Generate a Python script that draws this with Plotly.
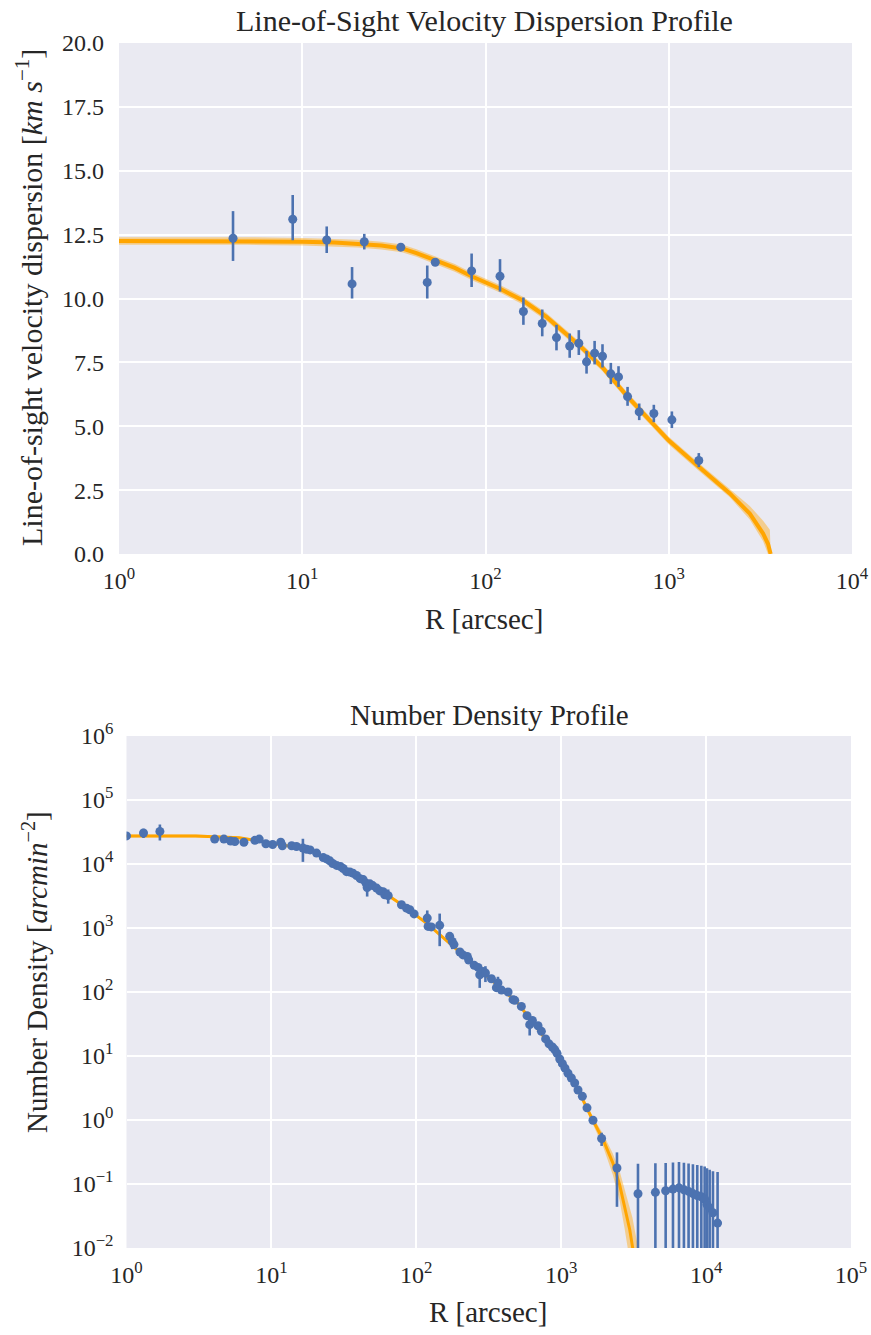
import plotly.graph_objects as go

# ---------------- Top panel: velocity dispersion ----------------
R_sigma = [4.19, 8.87, 13.6, 18.7, 21.8, 34.5, 48.1, 53.2, 84.0, 120, 161, 204, 244, 288, 323,
           356, 394, 435, 483, 532, 596, 690, 829, 1040, 1459]
sigma = [12.36, 13.10, 12.29, 10.57, 12.22, 12.01, 10.63, 11.42, 11.08, 10.87, 9.49, 9.02, 8.47,
         8.14, 8.25, 7.52, 7.86, 7.74, 7.05, 6.93, 6.16, 5.56, 5.50, 5.25, 3.66]
sigma_err_hi = [1.06, 0.95, 0.53, 0.66, 0.31, 0.10, 0.66, 0.08, 0.68, 0.67, 0.55, 0.55, 0.50,
                0.49, 0.51, 0.43, 0.48, 0.47, 0.43, 0.42, 0.38, 0.33, 0.34, 0.33, 0.29]
sigma_err_lo = [0.89, 0.82, 0.51, 0.57, 0.30, 0.10, 0.63, 0.08, 0.63, 0.60, 0.52, 0.50, 0.50,
                0.46, 0.46, 0.46, 0.44, 0.44, 0.40, 0.39, 0.36, 0.32, 0.34, 0.32, 0.26]

R_model_sigma = [1, 5, 10, 15, 20, 27, 35, 42, 53, 68, 85, 120, 161, 215, 327, 435, 596, 997,
                 1459, 2155, 2768, 3273, 3480, 3562, 3600]
sigma_model = [12.25, 12.25, 12.22, 12.19, 12.15, 12.07, 11.96, 11.78, 11.50, 11.20, 10.85, 10.38,
               9.91, 9.28, 8.15, 7.30, 6.16, 4.45, 3.41, 2.37, 1.58, 0.80, 0.40, 0.10, 0.0]
sigma_model_hi = [12.40, 12.40, 12.37, 12.34, 12.30, 12.22, 12.11, 11.93, 11.65, 11.35, 11.00,
                  10.53, 10.06, 9.43, 8.30, 7.45, 6.31, 4.60, 3.56, 2.55, 1.88, 1.30, 1.05, 0.95, 0.0]
sigma_model_lo = [12.10, 12.10, 12.07, 12.04, 12.00, 11.92, 11.81, 11.63, 11.35, 11.05, 10.70,
                  10.23, 9.76, 9.13, 8.00, 7.15, 6.01, 4.30, 3.26, 2.22, 1.35, 0.50, 0.0, 0.0, 0.0]

# ---------------- Bottom panel: number density ----------------
R_dens = [1.0, 1.31, 1.70, 4.06, 4.70, 5.23, 5.60, 6.46, 7.69, 8.24, 9.16, 10.2, 11.6, 11.9, 13.8,
          14.9, 16.5, 17.5, 18.5, 20.5, 22.8, 24.0, 25.3, 26.5, 28.2, 30.0, 31.3, 33.0, 34.8, 36.5,
          38.7, 41.0, 43.0, 45.0, 45.8, 47.8, 50.0, 53.2, 56.0, 59.0, 60.5, 62.2, 64.0,
          79, 85.6, 90.2, 96.6, 119, 120.6, 127, 145, 170, 177, 182, 200, 210, 225, 230, 251, 267,
          274, 289, 300, 330, 357, 366, 387, 430, 465, 478, 531, 581, 606, 633, 692, 730, 781, 824,
          869, 902, 936, 977, 1019, 1062, 1114, 1175, 1239, 1306, 1400, 1507, 1657, 1901, 2426,
          3388, 4467, 5259, 5908, 6500, 7030, 7570, 8110, 8690, 9270, 9770, 10140, 10580, 11150, 12000]
dens = [2.75e4, 3.05e4, 3.23e4, 2.45e4, 2.45e4, 2.29e4, 2.24e4, 2.19e4, 2.34e4, 2.45e4, 2.07e4,
        2.02e4, 2.19e4, 1.93e4, 1.93e4, 1.88e4, 1.78e4, 1.70e4, 1.66e4, 1.48e4, 1.26e4, 1.20e4,
        1.12e4, 1.02e4, 9.5e3, 9.1e3, 8.5e3, 7.6e3, 7.5e3, 7.2e3, 6.6e3, 5.9e3, 5.7e3, 5.0e3,
        4.3e3, 4.9e3, 4.6e3, 4.2e3, 3.8e3, 3.7e3, 3.3e3, 3.3e3, 3.2e3,
        2.31e3, 2.04e3, 1.93e3, 1.66e3, 1.43e3, 1.06e3, 1.04e3, 1.10e3, 740, 617, 550, 422, 380,
        360, 316, 261, 242, 186, 209, 198, 161, 117, 138, 107, 100, 76, 74, 59.6, 42.7, 30.9, 36,
        29.7, 24.3, 18.5, 15.5, 13.8, 12.6, 11.0, 8.97, 7.59, 6.46, 5.37, 4.53, 3.78, 2.94, 2.34,
        1.55, 0.99, 0.513, 0.178, 0.0705, 0.0741, 0.0785, 0.0832, 0.0871, 0.0813, 0.0766, 0.0708,
        0.0661, 0.0631, 0.0583, 0.0479, 0.0422, 0.0355, 0.0245]
dens_err = [0, 5000, 9000, 0, 0, 0, 0, 0, 0, 0, 0, 0, 0, 0, 0, 0, 7000, 0, 0, 0, 0, 0, 0, 0, 0, 0,
            0, 0, 0, 0, 0, 0, 0, 0, 1200, 0, 0, 0, 0, 0, 0, 0, 800,
            0, 0, 0, 0, 450, 0, 0, 580, 0, 150, 0, 0, 0, 0, 0, 0, 0, 70, 0, 55, 0, 0, 35, 0, 0, 0,
            0, 0, 0, 10, 0, 0, 0, 0, 0, 0, 0, 0, 0, 0, 0, 0, 0, 0, 0, 0, 0, 0, 0.12, 0.134, 0.137,
            0.136, 0.135, 0.134, 0.133, 0.133, 0.133, 0.133, 0.132, 0.13, 0.13, 0.128, 0.125, 0.123,
            0.13]

R_model_dens = [1, 3, 6, 10, 15, 20, 30, 50, 80, 120, 200, 300, 500, 800, 1000, 1300, 1650, 1950,
                2270, 2530, 2740, 2970, 3100, 3250, 3400]
dens_model = [2.75e4, 2.75e4, 2.57e4, 2.14e4, 1.82e4, 1.55e4, 8.9e3, 4.68e3, 2.29e3, 1.15e3, 417,
              191, 67.6, 17.0, 8.13, 3.02, 1.0, 0.49, 0.214, 0.098, 0.0447, 0.0195, 0.0107,
              0.0055, 0.0028]
dens_model_hi = [2.9e4, 2.9e4, 2.7e4, 2.25e4, 1.91e4, 1.63e4, 9.35e3, 4.9e3, 2.4e3, 1.21e3, 438,
                 200, 71, 17.9, 8.6, 3.2, 1.12, 0.6, 0.3, 0.16, 0.085, 0.045, 0.03, 0.017, 0.01]
dens_model_lo = [2.6e4, 2.6e4, 2.44e4, 2.03e4, 1.73e4, 1.47e4, 8.45e3, 4.45e3, 2.18e3, 1.09e3, 396,
                 182, 64, 16.1, 7.7, 2.85, 0.88, 0.38, 0.14, 0.055, 0.02, 0.007, 0.0035, 0.0015,
                 0.001]

# ---------------- styling ----------------
BLUE = "#4C72B0"
ORANGE = "rgba(255,165,0,1)"
BAND = "rgba(255,170,20,0.45)"
FONT = "Liberation Serif"
TXT = "#262626"

fig = go.Figure()

# top band + model
fig.add_trace(go.Scatter(x=R_model_sigma, y=sigma_model_lo, mode="lines", line=dict(width=0, color=BAND),
                         hoverinfo="skip", showlegend=False, xaxis="x", yaxis="y"))
fig.add_trace(go.Scatter(x=R_model_sigma, y=sigma_model_hi, mode="lines", line=dict(width=0, color=BAND),
                         fill="tonexty", fillcolor=BAND, hoverinfo="skip", showlegend=False,
                         xaxis="x", yaxis="y"))
fig.add_trace(go.Scatter(x=R_model_sigma, y=sigma_model, mode="lines", line=dict(width=4, color=ORANGE),
                         showlegend=False, xaxis="x", yaxis="y"))
fig.add_trace(go.Scatter(x=R_sigma, y=sigma, mode="markers",
                         marker=dict(size=9, color=BLUE),
                         error_y=dict(type="data", symmetric=False, array=sigma_err_hi,
                                      arrayminus=sigma_err_lo, color=BLUE, thickness=2.6, width=0),
                         showlegend=False, xaxis="x", yaxis="y"))

# bottom band + model
fig.add_trace(go.Scatter(x=R_model_dens, y=dens_model_lo, mode="lines", line=dict(width=0, color=BAND),
                         hoverinfo="skip", showlegend=False, xaxis="x2", yaxis="y2"))
fig.add_trace(go.Scatter(x=R_model_dens, y=dens_model_hi, mode="lines", line=dict(width=0, color=BAND),
                         fill="tonexty", fillcolor=BAND, hoverinfo="skip", showlegend=False,
                         xaxis="x2", yaxis="y2"))
fig.add_trace(go.Scatter(x=R_model_dens, y=dens_model, mode="lines", line=dict(width=3, color=ORANGE),
                         showlegend=False, xaxis="x2", yaxis="y2"))
fig.add_trace(go.Scatter(x=R_dens, y=dens, mode="markers",
                         marker=dict(size=9, color=BLUE),
                         error_y=dict(type="data", array=dens_err, color=BLUE, thickness=2.6, width=0),
                         showlegend=False, xaxis="x2", yaxis="y2"))

W, H = 871, 1335
def fx(px):
    return px / W
def fy(py):
    return 1 - py / H

axis_common = dict(showgrid=True, gridcolor="white", gridwidth=1.6, zeroline=False, showline=False,
                   ticks="", automargin=False, tickfont=dict(family=FONT, size=24, color=TXT))

dec_labels_top = ["10<sup>0</sup>", "10<sup>1</sup>", "10<sup>2</sup>", "10<sup>3</sup>", "10<sup>4</sup>"]
dec_labels_bot = ["10<sup>0</sup>", "10<sup>1</sup>", "10<sup>2</sup>", "10<sup>3</sup>", "10<sup>4</sup>",
                  "10<sup>5</sup>"]
ydec_vals = [1e-2, 1e-1, 1, 10, 100, 1e3, 1e4, 1e5, 1e6]
ydec_labels = ["10<sup>−2</sup>", "10<sup>−1</sup>", "10<sup>0</sup>", "10<sup>1</sup>", "10<sup>2</sup>",
               "10<sup>3</sup>", "10<sup>4</sup>", "10<sup>5</sup>", "10<sup>6</sup>"]

fig.update_layout(
    width=W, height=H,
    margin=dict(l=0, r=0, t=0, b=0, autoexpand=False),
    paper_bgcolor="white", plot_bgcolor="#EAEAF2",
    showlegend=False,
    xaxis=dict(axis_common, type="log", range=[0, 4], domain=[fx(119), fx(852)],
               tickvals=[1, 10, 100, 1000, 10000], ticktext=dec_labels_top,
               anchor="y", ticklabelstandoff=10),
    yaxis=dict(axis_common, range=[0, 20], dtick=2.5, tick0=0, tickformat=".1f",
               domain=[fy(554), fy(43)], anchor="x", ticklabelstandoff=14),
    xaxis2=dict(axis_common, type="log", range=[0, 5], domain=[fx(126.5), fx(851)],
                tickvals=[1, 10, 100, 1000, 10000, 100000], ticktext=dec_labels_bot,
                anchor="y2", ticklabelstandoff=10),
    yaxis2=dict(axis_common, type="log", range=[-2, 6], tickvals=ydec_vals, ticktext=ydec_labels,
                domain=[fy(1248), fy(736)], anchor="x2", ticklabelstandoff=12),
)

def ann(text, x, y, size, angle=0):
    fig.add_annotation(text=text, x=fx(x), y=fy(y), xref="paper", yref="paper", showarrow=False,
                       textangle=angle, xanchor="center", yanchor="middle",
                       font=dict(family=FONT, size=size, color=TXT))

ann("Line-of-Sight Velocity Dispersion Profile", 485, 20, 30)
ann("R [arcsec]", 484, 619, 29)
ann("Line-of-sight velocity dispersion [<i>km s</i><sup>−1</sup>]", 29, 298, 30, -90)
ann("Number Density Profile", 489, 715, 29)
ann("R [arcsec]", 488, 1312, 29)
ann("Number Density [<i>arcmin</i><sup>−2</sup>]", 35, 972, 29, -90)

fig.write_html("out.html")
